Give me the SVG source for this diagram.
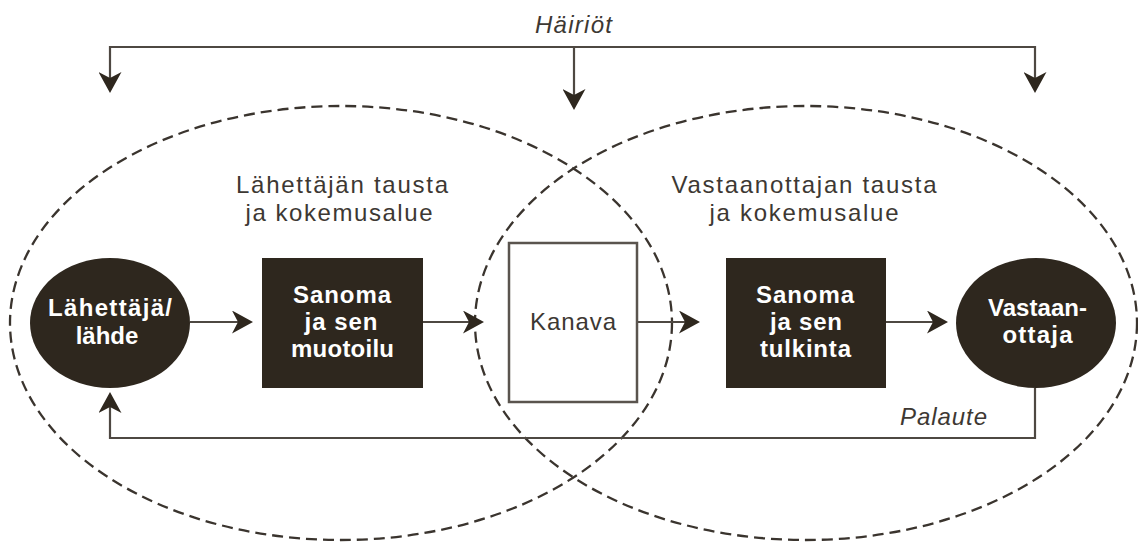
<svg xmlns="http://www.w3.org/2000/svg" width="1138" height="543" viewBox="0 0 1138 543">
<defs>
<style>
.bg{fill:#ffffff}
.zone{fill:none;stroke:#3a342e;stroke-width:2.3;stroke-dasharray:11 6}
.dark{fill:#2e271e}
.chan{fill:#ffffff;stroke:#5a544e;stroke-width:2.5}
.conn{fill:none;stroke:#4e4842;stroke-width:2.2}
.lbl{font-family:"Liberation Sans",Arial,sans-serif;font-size:24px;fill:#3d3833;text-anchor:middle}
.it{font-style:italic}
.wt{font-family:"Liberation Sans",Arial,sans-serif;font-size:24px;font-weight:bold;fill:#ffffff;text-anchor:middle}
</style>
<marker id="ah" viewBox="0 0 21 23" refX="18" refY="11.5" markerWidth="21" markerHeight="23" markerUnits="userSpaceOnUse" orient="auto-start-reverse">
<path d="M0,0 L21,11.5 L0,23 L6,11.5 Z" fill="#2e271e"/>
</marker>
</defs>
<rect class="bg" x="0" y="0" width="1138" height="543"/>

<g id="zones">
<ellipse class="zone" cx="341" cy="323" rx="331" ry="217"/>
<ellipse class="zone" cx="806" cy="323" rx="331" ry="217"/>
</g>

<g id="labels">
<text class="lbl it" x="573.5" y="33" textLength="77" lengthAdjust="spacing">Häiriöt</text>
<text class="lbl" x="342" y="193" textLength="212" lengthAdjust="spacing">Lähettäjän tausta</text>
<text class="lbl" x="339" y="221" textLength="187" lengthAdjust="spacing">ja kokemusalue</text>
<text class="lbl" x="804" y="193" textLength="265" lengthAdjust="spacing">Vastaanottajan tausta</text>
<text class="lbl" x="804" y="221" textLength="189" lengthAdjust="spacing">ja kokemusalue</text>
<text class="lbl it" x="943.5" y="425" textLength="87" lengthAdjust="spacing">Palaute</text>
</g>

<g id="connectors">
<path class="conn" d="M110,90 V47 H1035 V90" marker-start="url(#ah)" marker-end="url(#ah)"/>
<path class="conn" d="M574,47 V107" marker-end="url(#ah)"/>
<path class="conn" d="M190,322 H250" marker-end="url(#ah)"/>
<path class="conn" d="M423,322 H481" marker-end="url(#ah)"/>
<path class="conn" d="M637,322 H697" marker-end="url(#ah)"/>
<path class="conn" d="M886,322 H945" marker-end="url(#ah)"/>
<path class="conn" d="M1035,388 V438 H110 V395" marker-end="url(#ah)"/>
</g>

<g id="sender">
<ellipse class="dark" cx="110" cy="323" rx="80" ry="65"/>
<text class="wt" x="110" y="316" textLength="124" lengthAdjust="spacing">Lähettäjä/</text>
<text class="wt" x="107" y="344">lähde</text>
</g>

<g id="encode">
<rect class="dark" x="262" y="258" width="161" height="130"/>
<text class="wt" x="342" y="303" textLength="98" lengthAdjust="spacing">Sanoma</text>
<text class="wt" x="341" y="330" textLength="73" lengthAdjust="spacing">ja sen</text>
<text class="wt" x="342.5" y="357" textLength="103" lengthAdjust="spacing">muotoilu</text>
</g>

<g id="channel">
<rect class="chan" x="509" y="243" width="128" height="159"/>
<text class="lbl" x="573" y="330" textLength="86" lengthAdjust="spacing">Kanava</text>
</g>

<g id="decode">
<rect class="dark" x="726" y="258" width="160" height="130"/>
<text class="wt" x="805" y="303" textLength="98" lengthAdjust="spacing">Sanoma</text>
<text class="wt" x="806" y="330" textLength="72" lengthAdjust="spacing">ja sen</text>
<text class="wt" x="805.5" y="357" textLength="91" lengthAdjust="spacing">tulkinta</text>
</g>

<g id="receiver">
<ellipse class="dark" cx="1036" cy="323" rx="80" ry="65"/>
<text class="wt" x="1037.5" y="316" textLength="99" lengthAdjust="spacing">Vastaan-</text>
<text class="wt" x="1037.5" y="343" textLength="70" lengthAdjust="spacing">ottaja</text>
</g>
</svg>
